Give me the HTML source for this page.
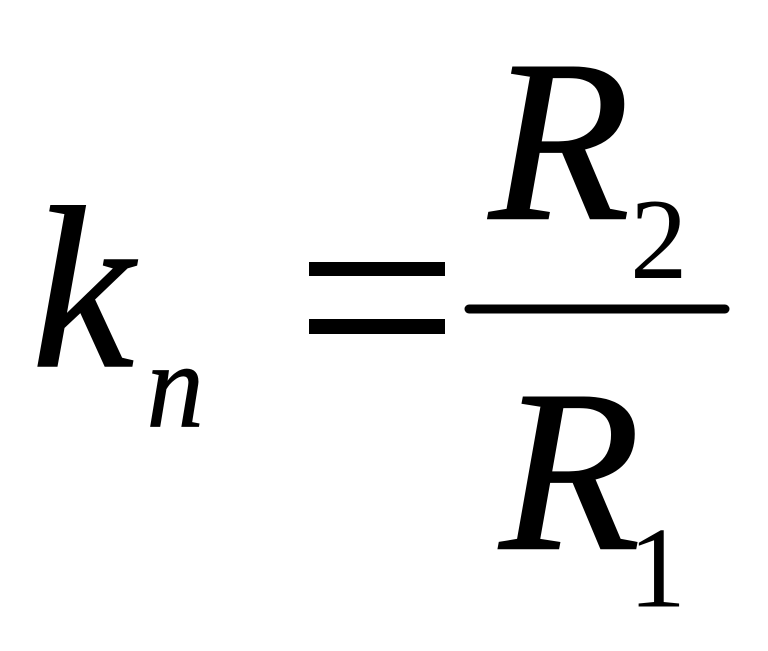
<!DOCTYPE html>
<html><head><meta charset="utf-8"><style>
html,body{margin:0;padding:0;background:#fff;width:768px;height:651px;overflow:hidden}
svg{display:block}
text{fill:#000}
.i{font-family:"Liberation Serif",serif;font-style:italic;stroke:#000;stroke-width:1.4}
.r{font-family:"Liberation Serif",serif}
</style></head><body>
<svg width="768" height="651" viewBox="0 0 768 651" xmlns="http://www.w3.org/2000/svg">
<text class="i" x="31.5" y="366" font-size="231">k</text>
<text class="i" transform="translate(146.5,426.5) scale(.94,1)" x="0" y="0" font-size="122" style="stroke-width:.8">n</text>
<rect x="309" y="262" width="136" height="14"/>
<rect x="309" y="319" width="136" height="15"/>
<text class="i" x="489" y="218.5" font-size="231">R</text>
<text class="r" x="630" y="278" font-size="115">2</text>
<line x1="469" y1="309" x2="725" y2="309" stroke="#000" stroke-width="9" stroke-linecap="round"/>
<text class="i" x="499.5" y="548.5" font-size="231">R</text>
<text class="r" x="628.5" y="606.5" font-size="115">1</text>
</svg>
</body></html>
